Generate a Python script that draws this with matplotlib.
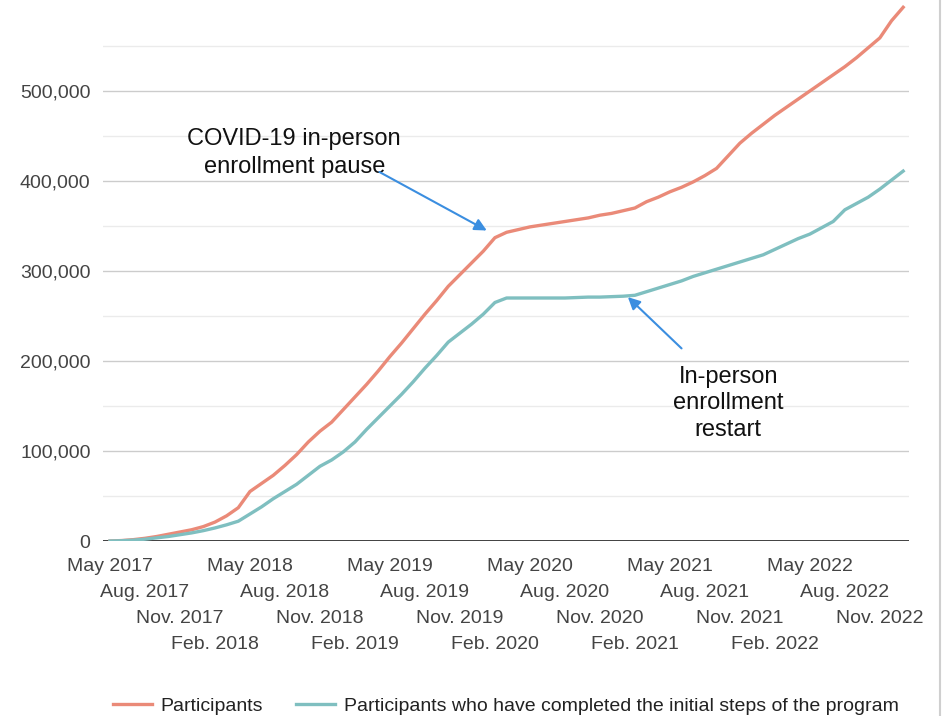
import matplotlib
matplotlib.use("Agg")
import matplotlib.pyplot as plt
from matplotlib.lines import Line2D
from matplotlib.ticker import FixedLocator, FuncFormatter
import numpy as np
import pandas as pd

plt.rcParams["font.family"] = ["Liberation Sans", "DejaVu Sans"]

# Monthly cumulative counts, May 2017 through Jan. 2023
months = pd.period_range("2017-05", "2023-01", freq="M")

participants = [
    0, 500, 1500, 3000, 5000, 7500, 10000, 12500, 16000, 21000,
    28000, 37000, 55000, 64000, 73000, 84000, 96000, 110000, 122000, 132000,
    146000, 160000, 174000, 189000, 205000, 220000, 236000, 252000, 267000, 283000,
    296000, 309000, 322000, 337000, 343000, 346000, 349000, 351000, 353000, 355000,
    357000, 359000, 362000, 364000, 367000, 370000, 377000, 382000, 388000, 393000,
    399000, 406000, 414000, 428000, 442000, 453000, 463000, 473000, 482000, 491000,
    500000, 509000, 518000, 527000, 537000, 548000, 559000, 578000, 593000,
]

completed_initial_steps = [
    0, 300, 1000, 2000, 3500, 5000, 7000, 9000, 11500, 14500,
    18000, 22000, 30000, 38000, 47000, 55000, 63000, 73000, 83000, 90000,
    99000, 110000, 124000, 137000, 150000, 163000, 177000, 192000, 206000, 221000,
    231000, 241000, 252000, 265000, 270000, 270000, 270000, 270000, 270000, 270000,
    270500, 271000, 271000, 271500, 272000, 273000, 277000, 281000, 285000, 289000,
    294000, 298000, 302000, 306000, 310000, 314000, 318000, 324000, 330000, 336000,
    341000, 348000, 355000, 368000, 375000, 382000, 391000, 401000, 411000,
]

tick_labels = [
    "May 2017", "Aug. 2017", "Nov. 2017", "Feb. 2018",
    "May 2018", "Aug. 2018", "Nov. 2018", "Feb. 2019",
    "May 2019", "Aug. 2019", "Nov. 2019", "Feb. 2020",
    "May 2020", "Aug. 2020", "Nov. 2020", "Feb. 2021",
    "May 2021", "Aug. 2021", "Nov. 2021", "Feb. 2022",
    "May 2022", "Aug. 2022", "Nov. 2022",
]

series_names = ["Participants",
                "Participants who have completed the initial steps of the program"]

RED = "#EA8A78"
TEAL = "#7FBFC0"
ARROW = "#3B8EE0"
TICK_COLOR = "#444444"

W, H = 943, 716
fig = plt.figure(figsize=(W / 100, H / 100), dpi=100)
ax = fig.add_axes([103 / W, 1 - 541 / H, (909 - 103) / W, 540 / H])

x = np.arange(len(months))
ax.plot(x, participants, color=RED, lw=2.4, solid_joinstyle="round",
        label=series_names[0], zorder=3)
ax.plot(x, completed_initial_steps, color=TEAL, lw=2.4, solid_joinstyle="round",
        label=series_names[1], zorder=3)

ax.set_xlim(-0.6, 68.5)
ax.set_ylim(0, 600000)

# Gridlines: labelled levels darker, halfway levels lighter
ax.yaxis.set_major_locator(FixedLocator(np.arange(0, 500001, 100000)))
ax.yaxis.set_minor_locator(FixedLocator(np.arange(50000, 550001, 100000)))
ax.yaxis.set_major_formatter(FuncFormatter(lambda v, p: f"{int(v):,}"))
ax.grid(axis="y", which="major", color="#cccccc", lw=1.0, zorder=0)
ax.grid(axis="y", which="minor", color="#ebebeb", lw=1.0, zorder=0)
ax.tick_params(axis="y", which="both", length=0, pad=9, labelsize=14,
               labelcolor=TICK_COLOR)
ax.axhline(0, color="#333333", lw=1.3, zorder=2)
for s in ax.spines.values():
    s.set_visible(False)

# Staggered month labels in four rows
ax.set_xticks([])
tick_pos = np.arange(0, len(tick_labels) * 3, 3)
row_offsets = [30, 56, 82, 108]
for i, (pos, lab) in enumerate(zip(tick_pos, tick_labels)):
    ax.annotate(lab, xy=(pos, 0), xycoords=("data", "axes fraction"),
                xytext=(0, -row_offsets[i % 4] * 0.72), textcoords="offset points",
                ha="center", va="baseline", fontsize=14, color=TICK_COLOR,
                annotation_clip=False)

# Annotations
ax.text(15.8, 431000, "COVID-19 in-person\nenrollment pause", ha="center",
        va="center", fontsize=17, color="#111111", linespacing=1.33, zorder=4)
ax.annotate("", xy=(32.3, 345000), xytext=(23.1, 410000),
            arrowprops=dict(arrowstyle="-|>", color=ARROW, lw=1.5,
                            mutation_scale=18, shrinkA=0, shrinkB=0), zorder=4)

ax.text(53.0, 153000, "In-person\nenrollment\nrestart", ha="center",
        va="center", fontsize=17, color="#111111", linespacing=1.28, zorder=4)
ax.annotate("", xy=(44.4, 271000), xytext=(49.0, 214000),
            arrowprops=dict(arrowstyle="-|>", color=ARROW, lw=1.5,
                            mutation_scale=18, shrinkA=0, shrinkB=0), zorder=4)

# Legend along the bottom
fig.legend(loc="center", bbox_to_anchor=(506 / W, 10 / H), ncol=2, frameon=False,
           fontsize=14, handlelength=2.0, handletextpad=0.45, columnspacing=1.7,
           labelcolor="#222222")

# Thin frame line on the right edge
fig.add_artist(Line2D([940 / W, 940 / W], [0, 1], transform=fig.transFigure,
                      color="#cfcfcf", lw=1.5))

fig.savefig("out.png", dpi=100)
